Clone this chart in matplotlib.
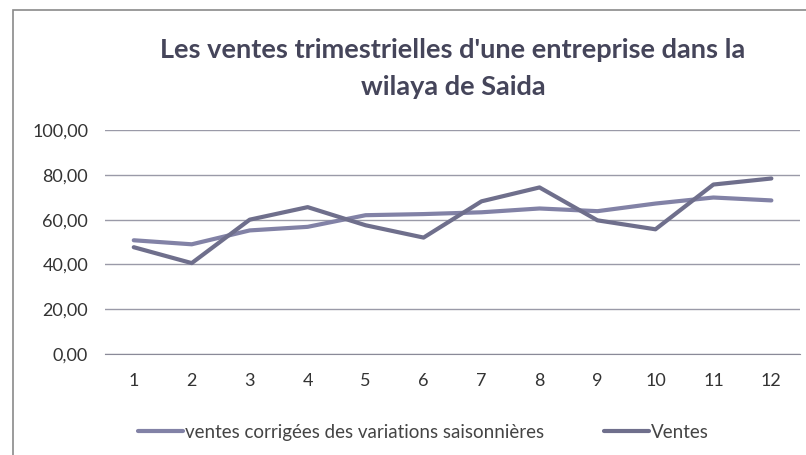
import matplotlib
matplotlib.use("Agg")
import matplotlib.pyplot as plt
from matplotlib.patches import Rectangle

# quarters 1..12
quarters = list(range(1, 13))
ventes_cvs = [50.8, 49.0, 55.2, 56.8, 62.0, 62.5, 63.3, 65.0, 63.8, 67.2, 69.9, 68.6]
ventes = [47.7, 40.6, 60.0, 65.6, 57.5, 52.0, 68.2, 74.4, 59.7, 55.7, 75.7, 78.4]
y_ticks = [0, 20, 40, 60, 80, 100]

plt.rcParams['font.family'] = ['Lato', 'DejaVu Sans']

fig = plt.figure(figsize=(8.06, 4.55), dpi=100)
ax = fig.add_axes([0.13, 0.222, 0.863, 0.492])

ax.plot(quarters, ventes_cvs, color='#8282a6', lw=3.0, solid_capstyle='round',
        label='ventes corrigées des variations saisonnières')
ax.plot(quarters, ventes, color='#6f6f8c', lw=3.0, solid_capstyle='round',
        label='Ventes')

ax.set_xlim(0.5, 12.5)
ax.set_ylim(0, 100)
ax.set_xticks(quarters)
ax.set_yticks(y_ticks)
ax.set_yticklabels(['%d,00' % v for v in y_ticks])
ax.grid(axis='y', color='#9a9aa8', lw=1.0)
ax.set_axisbelow(True)
for s in ['top', 'right', 'left']:
    ax.spines[s].set_visible(False)
ax.spines['bottom'].set_color('#8a8a98')
ax.tick_params(length=0, labelsize=13, colors='#333333')
ax.tick_params(axis='x', pad=14)
ax.tick_params(axis='y', pad=12)

fig.text(0.562, 0.89, "Les ventes trimestrielles d'une entreprise dans la",
         ha='center', va='center', fontsize=19.5, fontweight='bold', color='#45455a')
fig.text(0.562, 0.808, "wilaya de Saida",
         ha='center', va='center', fontsize=19.5, fontweight='bold', color='#45455a')

fig.legend(loc='center', bbox_to_anchor=(0.525, 0.05), ncol=2, frameon=False,
           fontsize=13.5, handlelength=2.4, handletextpad=0.1, columnspacing=3.2,
           labelcolor='#444444')

# chart border
fig.patches.append(Rectangle((0.016, -0.1), 1.2, 1.078, transform=fig.transFigure,
                             fill=False, edgecolor='#8a8a8a', lw=1.2))

fig.savefig('out.png', dpi=100)
